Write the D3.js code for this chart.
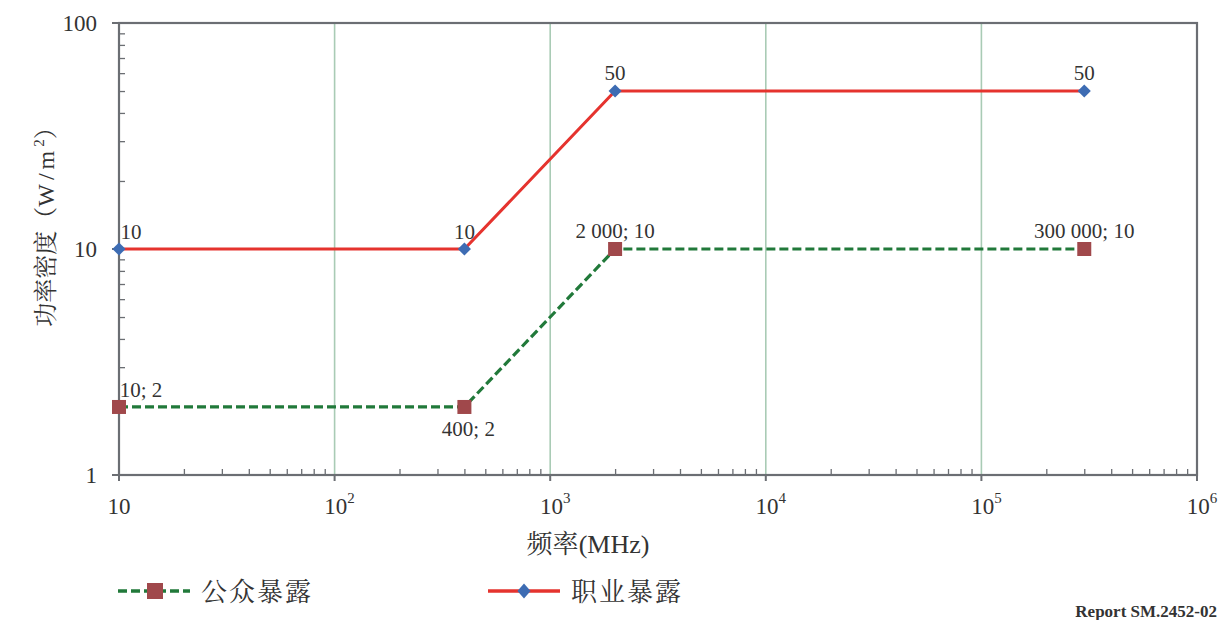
<!DOCTYPE html>
<html>
<head>
<meta charset="utf-8">
<script src="https://cdn.jsdelivr.net/npm/d3@7"></script>
<style>
  body { margin: 0; background: #fff; }
  text { font-family: "Liberation Serif", "Times New Roman", serif; fill: #333; }
  .cjk { font-family: "Noto Serif CJK SC", "Noto Sans CJK SC", sans-serif; }
</style>
</head>
<body>
<div id="chart"></div>
<script>
(function() {
  var width = 1221, height = 620;

  // data
  var freqs = [10, 400, 2000, 300000];
  var occupational = [10, 10, 50, 50];
  var general = [2, 2, 10, 10];
  var occLabels = ['10', '10', '50', '50'];
  var genLabels = ['10; 2', '400; 2', '2 000; 10', '300 000; 10'];
  var xTicks = [10, 100, 1000, 10000, 100000, 1000000];
  var xTickExp = ['', '2', '3', '4', '5', '6'];
  var yTicks = [1, 10, 100];
  var seriesNames = ['公众暴露', '职业暴露'];

  var left = 119, right = 1197, top = 23, bottom = 475;

  var x = d3.scaleLog().domain([10, 1e6]).range([left, right]);
  var y = d3.scaleLog().domain([1, 100]).range([bottom, top]);

  var svg = d3.select('#chart').append('svg').attr('width', width).attr('height', height);

  // minor ticks
  var xMinor = [], yMinor = [], d, k;
  for (d = 10; d < 1e6; d *= 10) for (k = 2; k < 10; k++) xMinor.push(d * k);
  for (d = 1; d < 100; d *= 10) for (k = 2; k < 10; k++) yMinor.push(d * k);

  // vertical grid
  svg.selectAll('line.grid').data(xTicks.slice(1, -1)).enter().append('line')
    .attr('class', 'grid')
    .attr('x1', function(v) { return x(v); }).attr('x2', function(v) { return x(v); })
    .attr('y1', top).attr('y2', bottom)
    .attr('stroke', '#a9cbb5').attr('stroke-width', 1.6);

  var frame = '#6b6e73';

  svg.append('g').attr('transform', 'translate(0,' + bottom + ')')
    .call(d3.axisBottom(x).tickValues(xMinor).tickSize(-6).tickFormat('').tickSizeOuter(0))
    .call(function(g) {
      g.select('.domain').remove();
      g.selectAll('line').attr('stroke', frame).attr('stroke-width', 1.3);
    });
  svg.append('g').attr('transform', 'translate(' + left + ',0)')
    .call(d3.axisLeft(y).tickValues(yMinor).tickSize(-6).tickFormat('').tickSizeOuter(0))
    .call(function(g) {
      g.select('.domain').remove();
      g.selectAll('line').attr('stroke', frame).attr('stroke-width', 1.3);
    });

  // frame
  svg.append('rect').attr('x', left).attr('y', top)
    .attr('width', right - left).attr('height', bottom - top)
    .attr('fill', 'none').attr('stroke', frame).attr('stroke-width', 2.2);

  // major ticks outward
  svg.selectAll('line.ymaj').data(yTicks).enter().append('line')
    .attr('x1', left - 7).attr('x2', left)
    .attr('y1', function(v) { return y(v); }).attr('y2', function(v) { return y(v); })
    .attr('stroke', frame).attr('stroke-width', 2);
  svg.selectAll('line.xmaj').data(xTicks).enter().append('line')
    .attr('x1', function(v) { return x(v); }).attr('x2', function(v) { return x(v); })
    .attr('y1', bottom).attr('y2', bottom + 6)
    .attr('stroke', frame).attr('stroke-width', 2);

  // tick labels
  svg.selectAll('text.ylab').data(yTicks).enter().append('text')
    .attr('x', 97).attr('y', function(v) { return y(v) + 8; })
    .attr('text-anchor', 'end').attr('font-size', 23)
    .text(function(v) { return v; });

  var xl = svg.selectAll('text.xlab').data(xTicks).enter().append('text')
    .attr('x', function(v, i) { return x(v) + (i ? 5 : 0); }).attr('y', 514)
    .attr('text-anchor', 'middle').attr('font-size', 23);
  xl.append('tspan').text('10');
  xl.append('tspan').attr('dy', -11).attr('font-size', 15)
    .text(function(v, i) { return xTickExp[i]; });

  // axis titles
  var yt = svg.append('text').attr('transform', 'translate(54,221) rotate(-90)')
    .attr('text-anchor', 'middle').attr('font-size', 24);
  yt.append('tspan').attr('class', 'cjk').text('功率密度（');
  yt.append('tspan').attr('letter-spacing', 4).text('W/m');
  yt.append('tspan').attr('dy', -10).attr('font-size', 15).text('2');
  yt.append('tspan').attr('dy', 10).attr('class', 'cjk').text('）');

  var xt = svg.append('text').attr('x', 588).attr('y', 553).attr('text-anchor', 'middle').attr('font-size', 26);
  xt.append('tspan').attr('class', 'cjk').text('频率');
  xt.append('tspan').text('(MHz)');

  var line = d3.line().x(function(p) { return x(p[0]); }).y(function(p) { return y(p[1]); });
  var occPts = d3.zip(freqs, occupational);
  var genPts = d3.zip(freqs, general);

  var red = '#e5332e', green = '#21793a', sq = '#a0484b', dia = '#3d6cb3';

  svg.append('path').datum(genPts).attr('d', line).attr('fill', 'none')
    .attr('stroke', green).attr('stroke-width', 3.2).attr('stroke-dasharray', '9,4');
  svg.append('path').datum(occPts).attr('d', line).attr('fill', 'none')
    .attr('stroke', red).attr('stroke-width', 3);

  svg.selectAll('rect.sq').data(genPts).enter().append('rect')
    .attr('x', function(p) { return x(p[0]) - 7; }).attr('y', function(p) { return y(p[1]) - 7; })
    .attr('width', 14).attr('height', 14).attr('fill', sq);
  var diamond = d3.symbol().type(d3.symbolDiamond2).size(110);
  svg.selectAll('path.dia').data(occPts).enter().append('path')
    .attr('transform', function(p) { return 'translate(' + x(p[0]) + ',' + y(p[1]) + ')'; })
    .attr('d', diamond).attr('fill', dia);

  // point labels
  var occOff = [[12, -10], [0, -10], [0, -11], [0, -11]];
  svg.selectAll('text.ol').data(occPts).enter().append('text')
    .attr('x', function(p, i) { return x(p[0]) + occOff[i][0]; })
    .attr('y', function(p, i) { return y(p[1]) + occOff[i][1]; })
    .attr('text-anchor', 'middle').attr('font-size', 21)
    .text(function(p, i) { return occLabels[i]; });
  var genOff = [[22, -10], [4, 29], [0, -11], [0, -11]];
  svg.selectAll('text.gl').data(genPts).enter().append('text')
    .attr('x', function(p, i) { return x(p[0]) + genOff[i][0]; })
    .attr('y', function(p, i) { return y(p[1]) + genOff[i][1]; })
    .attr('text-anchor', 'middle').attr('font-size', 21)
    .text(function(p, i) { return genLabels[i]; });

  // legend
  var ly = 591;
  svg.append('line').attr('x1', 118).attr('x2', 190).attr('y1', ly).attr('y2', ly)
    .attr('stroke', green).attr('stroke-width', 3.4).attr('stroke-dasharray', '9,4');
  svg.append('rect').attr('x', 147).attr('y', ly - 8).attr('width', 16).attr('height', 16).attr('fill', sq);
  svg.append('text').attr('class', 'cjk').attr('x', 201).attr('y', ly + 10)
    .attr('font-size', 26).attr('letter-spacing', 2).text(seriesNames[0]);

  svg.append('line').attr('x1', 488).attr('x2', 560).attr('y1', ly).attr('y2', ly)
    .attr('stroke', red).attr('stroke-width', 3.4);
  svg.append('path').attr('transform', 'translate(524,' + ly + ') scale(1,1.15)').attr('d', diamond).attr('fill', dia);
  svg.append('text').attr('class', 'cjk').attr('x', 571).attr('y', ly + 10)
    .attr('font-size', 26).attr('letter-spacing', 2).text(seriesNames[1]);

  svg.append('text').attr('x', 1217).attr('y', 617).attr('text-anchor', 'end')
    .attr('font-size', 17).attr('font-weight', 'bold').attr('fill', '#333').text('Report SM.2452-02');
})();
</script>
</body>
</html>
